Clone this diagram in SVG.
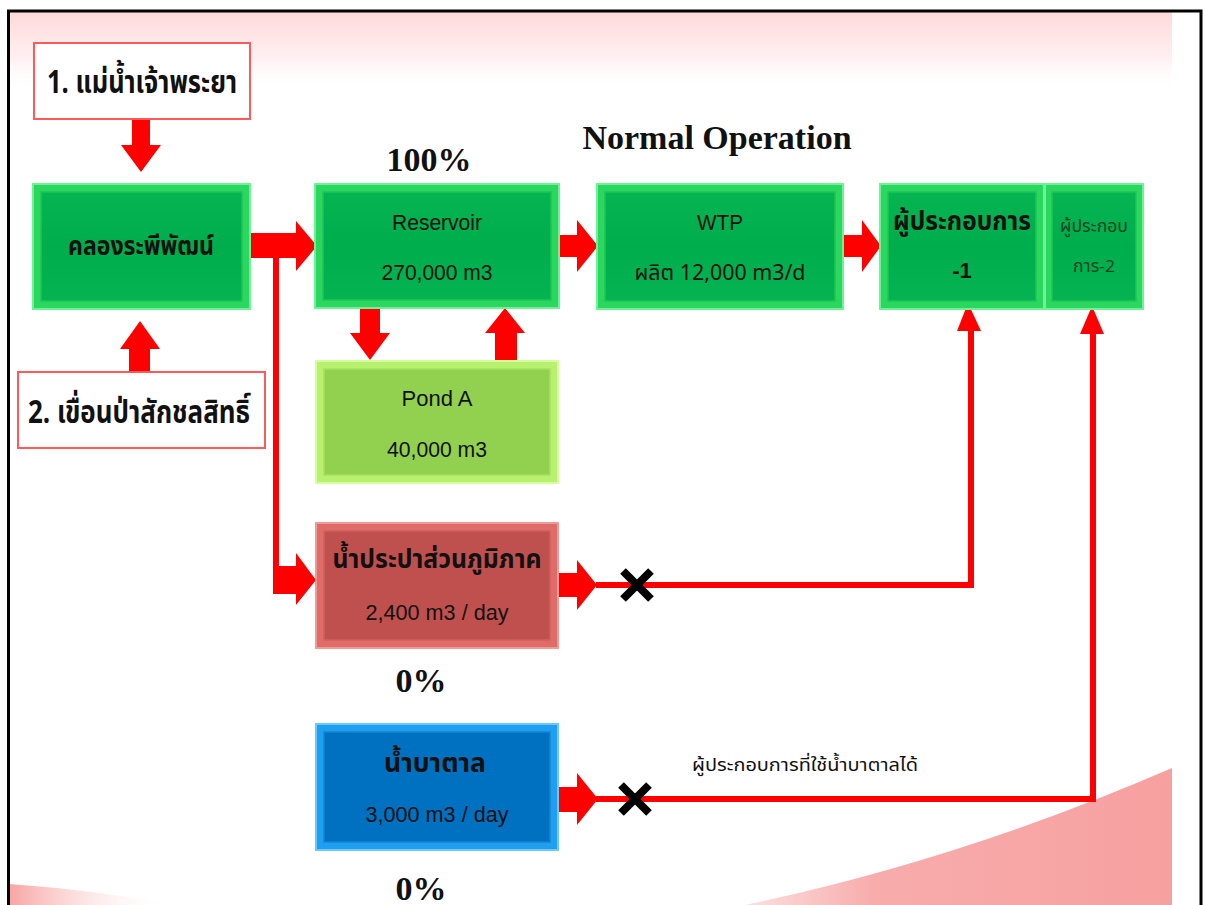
<svg xmlns="http://www.w3.org/2000/svg" width="1205" height="905" viewBox="0 0 1205 905">
<defs>
<linearGradient id="topPink" x1="0" y1="0" x2="0" y2="1">
<stop offset="0" stop-color="#ffd9d9"/>
<stop offset="0.6" stop-color="#fff0f3"/>
<stop offset="1" stop-color="#ffffff" stop-opacity="0"/>
</linearGradient>
<linearGradient id="brPink" gradientUnits="userSpaceOnUse" x1="745" y1="0" x2="1172" y2="0">
<stop offset="0" stop-color="#fde0e0"/>
<stop offset="0.3" stop-color="#f8acac"/>
<stop offset="1" stop-color="#f7a0a0"/>
</linearGradient>
<linearGradient id="blPink" x1="0" y1="0" x2="1" y2="0">
<stop offset="0" stop-color="#f8a4a4"/>
<stop offset="1" stop-color="#ffffff" stop-opacity="0"/>
</linearGradient>
<linearGradient id="gFace" x1="0" y1="0" x2="0" y2="1">
<stop offset="0" stop-color="#06b452"/>
<stop offset="0.5" stop-color="#00ad4c"/>
<stop offset="1" stop-color="#05b352"/>
</linearGradient>
<style>
.frame{fill:none;stroke:#000;stroke-width:3}
.src{fill:#fff;stroke:#ff5a5a;stroke-width:2}
.g-out{fill:#2bd75f;stroke:#6df396;stroke-width:2}
.g-in{fill:url(#gFace);stroke:#1ec655;stroke-width:1.5}
.p-out{fill:#b8f070;stroke:#d4ff9a;stroke-width:2}
.p-in{fill:#92d050;stroke:#a6e062;stroke-width:1.5}
.r-out{fill:#e06c6a;stroke:#f09a98;stroke-width:2}
.r-in{fill:#c0504d;stroke:#d0605c;stroke-width:1.5}
.b-out{fill:#1f9ff0;stroke:#6cc8ff;stroke-width:2}
.b-in{fill:#0070c0;stroke:#1585d2;stroke-width:1.5}
.arr{fill:#ff0000}
.ln{stroke:#ff0000;stroke-width:6;fill:none}
.xm{stroke:#000;stroke-width:8;stroke-linecap:butt}
.th{font-family:"Noto Sans Thai","Liberation Sans","DejaVu Sans",sans-serif;fill:#111;text-anchor:middle}
.thb{font-family:"Noto Sans Thai","Liberation Sans","DejaVu Sans",sans-serif;font-weight:bold;fill:#111;text-anchor:middle}
.dim{fill:#0e4522}
.lat{font-family:"Liberation Sans",Arial,sans-serif;fill:#111;text-anchor:middle;font-size:22px}
.big{font-family:"Liberation Serif","Times New Roman",serif;font-weight:bold;fill:#111;text-anchor:middle;font-size:34px}
</style>
</defs>
<g id="background">
<rect x="9" y="11" width="1163" height="80" fill="url(#topPink)"/>
<path d="M1172 768 Q960 860 745 905 L1172 905 Z" fill="url(#brPink)"/>
<path d="M9 884 Q95 890 175 905 L9 905 Z" fill="url(#blPink)"/>
<rect class="frame" x="8.5" y="11" width="1192.5" height="900"/>
</g>
<g id="title">
<text class="big" x="717" y="149">Normal Operation</text>
<text class="big" x="429" y="171">100%</text>
<text class="big" x="421" y="692">0%</text>
<text class="big" x="421" y="900">0%</text>
</g>
<g id="connectors">
<polygon class="arr" points="132,119 150,119 150,145 161,145 141,172 121,145 132,145"/>
<polygon class="arr" points="140,321 160,349 150,349 150,372 129,372 129,349 120,349"/>
<polygon class="arr" points="250,233 296,233 296,221 317,246 296,271 296,258 250,258"/>
<rect class="arr" x="273" y="256" width="6" height="338"/>
<polygon class="arr" points="273,566 296,566 296,553 316,580 296,605 296,594 273,594"/>
<polygon class="arr" points="559,235 577,235 577,220 598,246 577,272 577,257 559,257"/>
<polygon class="arr" points="843,235 862,235 862,220 881,246 862,272 862,257 843,257"/>
<polygon class="arr" points="360,308 380,308 380,333 390,333 370,360 350,333 360,333"/>
<polygon class="arr" points="505,308 525,333 517,333 517,360 495,360 495,333 485,333"/>
<polygon class="arr" points="558,573 577,573 577,560 597,585 577,610 577,597 558,597"/>
<polyline class="ln" points="596,585 971,585 971,330"/>
<polygon class="arr" points="968,303 981,331 957,331"/>
<polygon class="arr" points="558,787 577,787 577,773 598,799 577,825 577,812 558,812"/>
<polyline class="ln" points="596,799 1093,799 1093,332"/>
<polygon class="arr" points="1092,306 1104,334 1080,334"/>
<line class="xm" x1="623" y1="571" x2="651" y2="599"/>
<line class="xm" x1="651" y1="571" x2="623" y2="599"/>
<line class="xm" x1="621" y1="785" x2="649" y2="813"/>
<line class="xm" x1="649" y1="785" x2="621" y2="813"/>
<text class="th" x="805" y="771" font-size="18" textLength="226" lengthAdjust="spacingAndGlyphs">ผู้ประกอบการที่ใช้น้ำบาตาลได้</text>
</g>
<g id="src1">
<rect class="src" x="34" y="43" width="216" height="76"/>
<text class="thb" x="142" y="93" font-size="32" textLength="190" lengthAdjust="spacingAndGlyphs">1. แม่น้ำเจ้าพระยา</text>
</g>
<g id="src2">
<rect class="src" x="18" y="372" width="247" height="76"/>
<text class="thb" x="139" y="423" font-size="32" textLength="222" lengthAdjust="spacingAndGlyphs">2. เขื่อนป่าสักชลสิทธิ์</text>
</g>
<g id="klong">
<rect class="g-out" x="33" y="184" width="217" height="125"/>
<rect class="g-in" x="41" y="192" width="201" height="109"/>
<text class="thb" x="141" y="255" font-size="27" textLength="146" lengthAdjust="spacingAndGlyphs">คลองระพีพัฒน์</text>
</g>
<g id="reservoir">
<rect class="g-out" x="315" y="184" width="244" height="124"/>
<rect class="g-in" x="323" y="192" width="228" height="108"/>
<text class="lat" x="437" y="230" textLength="90" lengthAdjust="spacingAndGlyphs">Reservoir</text>
<text class="lat" x="437" y="280" textLength="111" lengthAdjust="spacingAndGlyphs">270,000 m3</text>
</g>
<g id="wtp">
<rect class="g-out" x="597" y="184" width="246" height="125"/>
<rect class="g-in" x="605" y="192" width="230" height="109"/>
<text class="lat" x="720" y="230" textLength="46" lengthAdjust="spacingAndGlyphs">WTP</text>
<text class="th" x="720" y="280" font-size="22" textLength="171" lengthAdjust="spacingAndGlyphs">ผลิต 12,000 m3/d</text>
</g>
<g id="op1">
<rect class="g-out" x="880" y="184" width="164" height="125"/>
<rect class="g-in" x="888" y="192" width="148" height="109"/>
<text class="thb" x="962" y="230" font-size="26" textLength="138" lengthAdjust="spacingAndGlyphs">ผู้ประกอบการ</text>
<text class="lat" x="962" y="278" font-weight="bold">-1</text>
</g>
<g id="op2">
<rect class="g-out" x="1045" y="184" width="98" height="125"/>
<rect class="g-in" x="1052" y="192" width="84" height="109"/>
<text class="th dim" x="1094" y="232" font-size="17" textLength="68" lengthAdjust="spacingAndGlyphs">ผู้ประกอบ</text>
<text class="th dim" x="1094" y="272" font-size="17" textLength="42" lengthAdjust="spacingAndGlyphs">การ-2</text>
</g>
<g id="pond">
<rect class="p-out" x="316" y="361" width="242" height="122"/>
<rect class="p-in" x="324" y="369" width="226" height="106"/>
<text class="lat" x="437" y="406" textLength="71" lengthAdjust="spacingAndGlyphs">Pond A</text>
<text class="lat" x="437" y="457" textLength="100" lengthAdjust="spacingAndGlyphs">40,000 m3</text>
</g>
<g id="pwa">
<rect class="r-out" x="316" y="523" width="242" height="125"/>
<rect class="r-in" x="324" y="531" width="226" height="109"/>
<text class="thb" x="437" y="568" font-size="26" textLength="209" lengthAdjust="spacingAndGlyphs">น้ำประปาส่วนภูมิภาค</text>
<text class="lat" x="437" y="620" textLength="143" lengthAdjust="spacingAndGlyphs">2,400 m3 / day</text>
</g>
<g id="groundwater">
<rect class="b-out" x="316" y="724" width="242" height="126"/>
<rect class="b-in" x="324" y="732" width="226" height="110"/>
<text class="thb" x="435" y="772" font-size="26" textLength="102" lengthAdjust="spacingAndGlyphs">น้ำบาตาล</text>
<text class="lat" x="437" y="822" textLength="143" lengthAdjust="spacingAndGlyphs">3,000 m3 / day</text>
</g>
</svg>
